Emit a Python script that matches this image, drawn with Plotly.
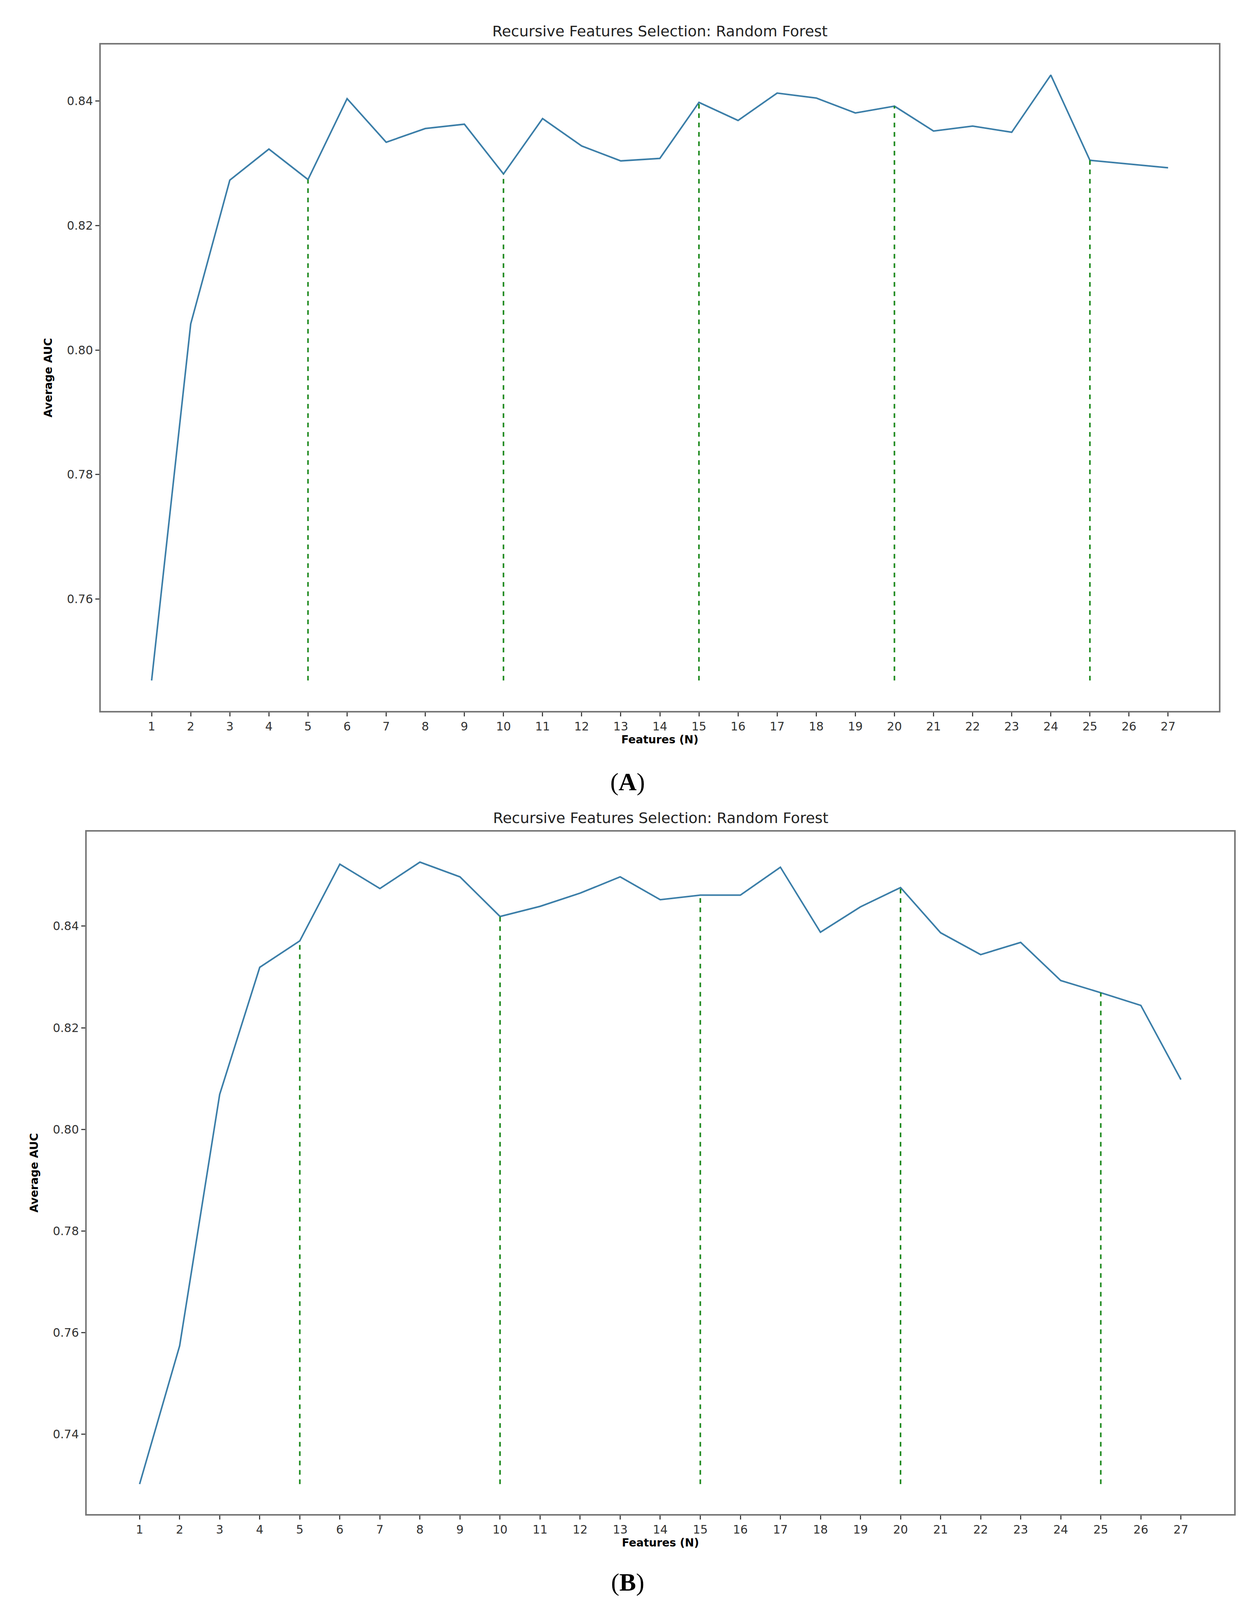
import plotly.graph_objects as go

features = list(range(1, 28))
auc_a = [0.7469, 0.8042, 0.8273, 0.8323, 0.8274, 0.8404, 0.8334, 0.8356, 0.8363, 0.8283,
         0.8372, 0.8328, 0.8304, 0.8308, 0.8398, 0.8369, 0.8413, 0.8405, 0.8381, 0.8392,
         0.8352, 0.8360, 0.8350, 0.8442, 0.8305, 0.8299, 0.8293]
auc_b = [0.7302, 0.7574, 0.8069, 0.8319, 0.8371, 0.8522, 0.8474, 0.8526, 0.8497, 0.8419,
         0.8439, 0.8465, 0.8497, 0.8452, 0.8461, 0.8461, 0.8516, 0.8388, 0.8438, 0.8476,
         0.8387, 0.8344, 0.8368, 0.8293, 0.8269, 0.8244, 0.8098]
marks = [5, 10, 15, 20, 25]
yticks_a = [0.76, 0.78, 0.80, 0.82, 0.84]
yticks_b = [0.74, 0.76, 0.78, 0.80, 0.82, 0.84]

W, H = 3197, 4108
fig = go.Figure()
LINE = "#3b7ea8"
GREEN = "#1e8a1e"

def add_panel(vals, xa, ya):
    fig.add_trace(go.Scatter(x=features, y=vals, mode="lines", line=dict(color=LINE, width=4),
                             xaxis=xa, yaxis=ya, showlegend=False))
    lo = min(vals)
    for m in marks:
        fig.add_trace(go.Scatter(x=[m, m], y=[lo, vals[m - 1]], mode="lines",
                                 line=dict(color=GREEN, width=4, dash="dash"),
                                 xaxis=xa, yaxis=ya, showlegend=False))

add_panel(auc_a, "x", "y")
add_panel(auc_b, "x2", "y2")

tickfont = dict(family="DejaVu Sans", size=30, color="#333333")
axcommon = dict(showgrid=False, zeroline=False, showline=True, linecolor="#777777", linewidth=4,
                mirror=True, ticks="outside", ticklen=10, tickwidth=3, tickcolor="#444444",
                tickfont=tickfont)
xtitle = dict(text="<b>Features (N)</b>", font=dict(family="DejaVu Sans", size=28, color="black"), standoff=8)
ytitle = dict(text="<b>Average AUC</b>", font=dict(family="DejaVu Sans", size=28, color="black"), standoff=30)

fig.update_layout(
    width=W, height=H, autosize=False, margin=dict(l=0, r=0, t=0, b=0),
    paper_bgcolor="white", plot_bgcolor="white",
    xaxis=dict(domain=[250/W, 3112/W], range=[-0.3, 28.3], tickvals=features, anchor="y",
               title=xtitle, **axcommon),
    yaxis=dict(domain=[1-1812/H, 1-106/H], range=[0.742, 0.8491], tickvals=yticks_a,
               tickformat=".2f", anchor="x", title=ytitle, **axcommon),
    xaxis2=dict(domain=[214/W, 3151/W], range=[-0.32, 28.33], tickvals=features, anchor="y2",
                title=xtitle, **axcommon),
    yaxis2=dict(domain=[1-3868/H, 1-2121/H], range=[0.7243, 0.8586], tickvals=yticks_b,
                tickformat=".2f", anchor="x2", title=ytitle, **axcommon),
    annotations=[
        dict(text="Recursive Features Selection: Random Forest", x=(250+3112)/2/W, y=1-72/H,
             xref="paper", yref="paper", showarrow=False, yanchor="middle",
             font=dict(family="DejaVu Sans", size=38, color="#222222")),
        dict(text="Recursive Features Selection: Random Forest", x=(214+3151)/2/W, y=1-2086/H,
             xref="paper", yref="paper", showarrow=False, yanchor="middle",
             font=dict(family="DejaVu Sans", size=38, color="#222222")),
        dict(text="(<b>A</b>)", x=0.5, y=1-1993/H, xref="paper", yref="paper", showarrow=False,
             yanchor="middle", font=dict(family="Liberation Serif", size=64, color="black")),
        dict(text="(<b>B</b>)", x=0.5, y=1-4042/H, xref="paper", yref="paper", showarrow=False,
             yanchor="middle", font=dict(family="Liberation Serif", size=64, color="black")),
    ],
)
fig.write_html("out.html")
